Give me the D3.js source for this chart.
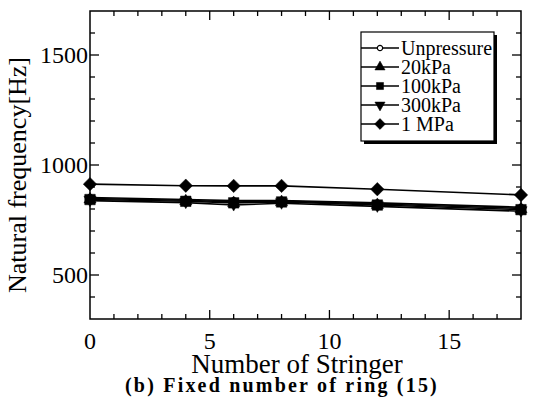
<!DOCTYPE html>
<html>
<head>
<meta charset="utf-8">
<script src="https://cdn.jsdelivr.net/npm/d3@7/dist/d3.min.js"></script>
<style>
  html, body { margin: 0; padding: 0; background: #fff; }
  svg { display: block; }
</style>
</head>
<body>
<svg id="chart" width="533" height="400"></svg>
<script>
// Number of stringers (x positions)
const stringers = [0, 4, 6, 8, 12, 18];

// Natural frequency [Hz] for each internal pressure case
const seriesNames = ["Unpressure", "20kPa", "100kPa", "300kPa", "1 MPa"];
const unpressure = [852, 843, 838, 838, 828, 808];
const kpa20      = [848, 840, 832, 836, 823, 803];
const kpa100     = [843, 835, 828, 832, 818, 797];
const kpa300     = [838, 829, 818, 826, 812, 790];
const mpa1       = [913, 906, 905, 905, 890, 864];

const xTickLabels = [0, 5, 10, 15];
const yTickLabels = [500, 1000, 1500];

const seriesValues = [unpressure, kpa20, kpa100, kpa300, mpa1];
const markerKinds = ["circle", "triangle", "square", "triangleDown", "diamond"];

const FONT = "Liberation Serif";

const svg = d3.select("#chart");
const plot = { left: 90, right: 521, top: 11, bottom: 319 };

const x = d3.scaleLinear().domain([0, 18]).range([plot.left, plot.right]);
const y = d3.scaleLinear().domain([300, 1700]).range([plot.bottom, plot.top]);

// Marker shapes (areas in px²)
const markerArea = { circle: 30, triangle: 64, square: 110, triangleDown: 64, diamond: 115 };
const legendArea = { circle: 22, triangle: 45, square: 50, triangleDown: 45, diamond: 75 };
const symbolType = {
  circle: d3.symbolCircle, triangle: d3.symbolTriangle, square: d3.symbolSquare,
  triangleDown: d3.symbolTriangle, diamond: d3.symbolDiamond2
};
function symbolFor(kind, area) {
  return d3.symbol().type(symbolType[kind]).size(area)();
}

// Series lines
const line = d3.line().x((d, i) => x(stringers[i])).y(d => y(d));
const lineLayer = svg.append("g");
seriesValues.forEach(vals => {
  lineLayer.append("path")
    .attr("d", line(vals))
    .attr("fill", "none")
    .attr("stroke", "#000")
    .attr("stroke-width", 1.6);
});

// Markers
const markerLayer = svg.append("g");
seriesValues.forEach((vals, si) => {
  const kind = markerKinds[si];
  vals.forEach((v, i) => {
    const rot = kind === "triangleDown" ? 180 : 0;
    const dy = kind === "triangle" ? 1 : (kind === "triangleDown" ? -1 : 0);
    markerLayer.append("path")
      .attr("d", symbolFor(kind, markerArea[kind]))
      .attr("transform", `translate(${x(stringers[i])},${y(v) + dy}) rotate(${rot})`)
      .attr("fill", kind === "circle" ? "#fff" : "#000")
      .attr("stroke", "#000")
      .attr("stroke-width", kind === "circle" ? 1.2 : 0.5);
  });
});

// Frame with inward ticks on all four sides
const axisLayer = svg.append("g");
axisLayer.append("rect")
  .attr("x", plot.left).attr("y", plot.top)
  .attr("width", plot.right - plot.left).attr("height", plot.bottom - plot.top)
  .attr("fill", "none").attr("stroke", "#000").attr("stroke-width", 1.5);

const xMinor = d3.range(1, 18);
const yMinor = d3.range(400, 1700, 100);

function tickLen(isMajor) { return isMajor ? 9 : 5; }

xMinor.forEach(t => {
  const L = tickLen(xTickLabels.includes(t));
  axisLayer.append("line").attr("x1", x(t)).attr("x2", x(t))
    .attr("y1", plot.bottom).attr("y2", plot.bottom - L)
    .attr("stroke", "#000").attr("stroke-width", 1.3);
  axisLayer.append("line").attr("x1", x(t)).attr("x2", x(t))
    .attr("y1", plot.top).attr("y2", plot.top + L)
    .attr("stroke", "#000").attr("stroke-width", 1.3);
});
yMinor.forEach(t => {
  const L = tickLen(yTickLabels.includes(t));
  axisLayer.append("line").attr("y1", y(t)).attr("y2", y(t))
    .attr("x1", plot.left).attr("x2", plot.left + L)
    .attr("stroke", "#000").attr("stroke-width", 1.3);
  axisLayer.append("line").attr("y1", y(t)).attr("y2", y(t))
    .attr("x1", plot.right).attr("x2", plot.right - L)
    .attr("stroke", "#000").attr("stroke-width", 1.3);
});

// Tick labels
xTickLabels.forEach(t => {
  axisLayer.append("text")
    .attr("x", x(t)).attr("y", 349)
    .attr("text-anchor", "middle")
    .attr("font-family", FONT)
    .attr("font-size", 24)
    .text(t);
});
yTickLabels.forEach(t => {
  axisLayer.append("text")
    .attr("x", plot.left - 2).attr("y", y(t) + 8)
    .attr("text-anchor", "end")
    .attr("font-family", FONT)
    .attr("font-size", 24)
    .text(t);
});

// Axis titles and caption
svg.append("text")
  .attr("x", 297).attr("y", 373)
  .attr("text-anchor", "middle").attr("font-size", 27)
  .attr("font-family", FONT)
  .text("Number of Stringer");

svg.append("text")
  .attr("transform", `translate(26,175) rotate(-90)`)
  .attr("text-anchor", "middle").attr("font-size", 26)
  .attr("font-family", FONT)
  .text("Natural frequency[Hz]");

svg.append("text")
  .attr("x", 282).attr("y", 392)
  .attr("text-anchor", "middle").attr("font-size", 20)
  .attr("font-family", FONT)
  .attr("font-weight", "bold")
  .attr("letter-spacing", 2.2)
  .text("(b) Fixed number of ring (15)");

// Legend with drop shadow
const lg = { x: 361, y: 32, w: 133, h: 109, row: 19 };
const legend = svg.append("g");
legend.append("rect")
  .attr("x", lg.x + 3).attr("y", lg.y + 3).attr("width", lg.w).attr("height", lg.h)
  .attr("fill", "#000");
legend.append("rect")
  .attr("x", lg.x).attr("y", lg.y).attr("width", lg.w).attr("height", lg.h)
  .attr("fill", "#fff").attr("stroke", "#000").attr("stroke-width", 1.2);

seriesNames.forEach((name, i) => {
  const ry = lg.y + 16 + i * lg.row;
  legend.append("line")
    .attr("x1", lg.x).attr("x2", lg.x + 38).attr("y1", ry).attr("y2", ry)
    .attr("stroke", "#000").attr("stroke-width", 1.4);
  const kind = markerKinds[i];
  const rot = kind === "triangleDown" ? 180 : 0;
  legend.append("path")
    .attr("d", symbolFor(kind, legendArea[kind]))
    .attr("transform", `translate(${lg.x + 19},${ry}) rotate(${rot})`)
    .attr("fill", kind === "circle" ? "#fff" : "#000")
    .attr("stroke", "#000").attr("stroke-width", kind === "circle" ? 1.2 : 0.5);
  legend.append("text")
    .attr("x", lg.x + 40).attr("y", ry + 7)
    .attr("font-family", FONT)
    .attr("font-size", 20)
    .text(name);
});
</script>
</body>
</html>
